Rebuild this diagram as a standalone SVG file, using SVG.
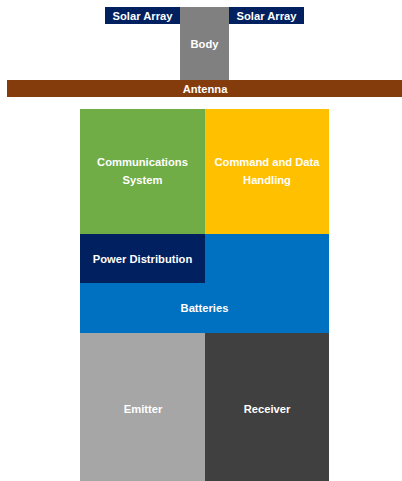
<svg xmlns="http://www.w3.org/2000/svg" width="402" height="481" viewBox="0 0 402 481">
  <style>
    .lbl { font-family: "Liberation Sans", Arial, sans-serif; font-weight: bold; font-size: 11.2px; fill: #ffffff; text-anchor: middle; }
  </style>
  <rect x="0" y="0" width="402" height="481" fill="#ffffff"/>

  <!-- spacecraft exterior -->
  <g id="solar-array-left">
    <rect x="105" y="7" width="75" height="17" fill="#002060"/>
    <text class="lbl" x="142.5" y="20">Solar Array</text>
  </g>
  <g id="solar-array-right">
    <rect x="229" y="7" width="75" height="17" fill="#002060"/>
    <text class="lbl" x="266.5" y="20">Solar Array</text>
  </g>
  <g id="body">
    <rect x="180" y="7" width="49" height="73" fill="#808080"/>
    <text class="lbl" x="204.5" y="48">Body</text>
  </g>
  <g id="antenna">
    <rect x="7" y="80" width="395" height="17" fill="#843c0c"/>
    <text class="lbl" x="205" y="93">Antenna</text>
  </g>

  <!-- internal subsystems -->
  <g id="communications">
    <rect x="80" y="109" width="125" height="125" fill="#70ad47"/>
    <text class="lbl" x="142.5" y="166">Communications</text>
    <text class="lbl" x="142.5" y="184">System</text>
  </g>
  <g id="command-data">
    <rect x="205" y="109" width="124" height="125" fill="#ffc000"/>
    <text class="lbl" x="267" y="166">Command and Data</text>
    <text class="lbl" x="267" y="184">Handling</text>
  </g>
  <g id="batteries">
    <rect x="80" y="234" width="249" height="99" fill="#0070c0"/>
    <text class="lbl" x="204.5" y="312">Batteries</text>
  </g>
  <g id="power-distribution">
    <rect x="80" y="234" width="125" height="49" fill="#002060"/>
    <text class="lbl" x="142.5" y="263">Power Distribution</text>
  </g>
  <g id="emitter">
    <rect x="80" y="333" width="125" height="148" fill="#a6a6a6"/>
    <text class="lbl" x="143" y="413">Emitter</text>
  </g>
  <g id="receiver">
    <rect x="205" y="333" width="124" height="148" fill="#404040"/>
    <text class="lbl" x="267" y="413">Receiver</text>
  </g>
  <g id="connectors"/>
</svg>
